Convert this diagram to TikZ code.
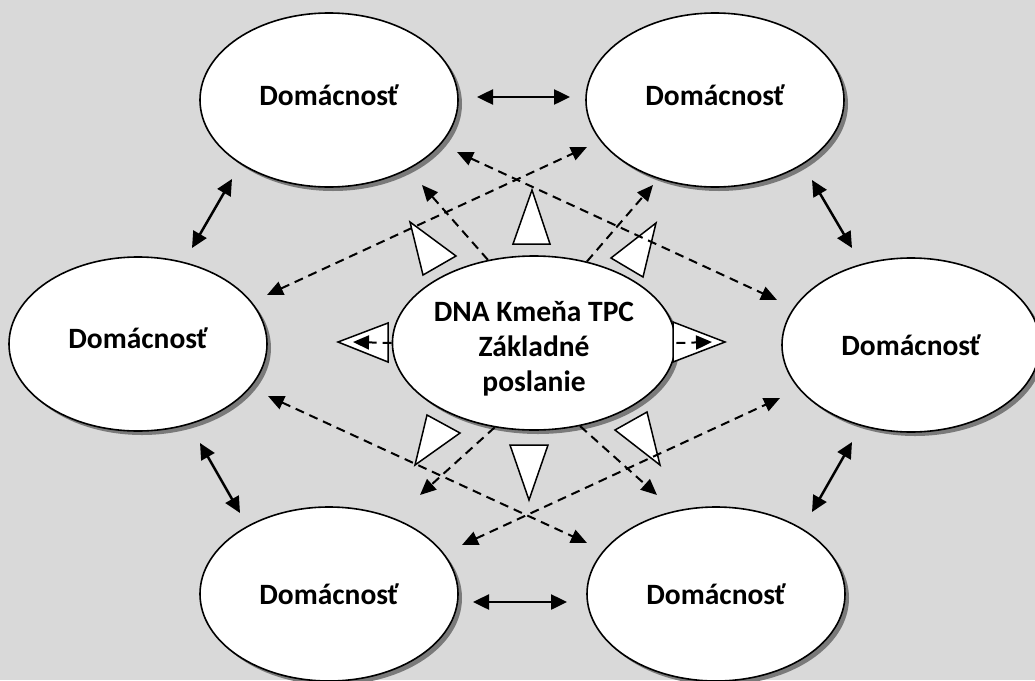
\documentclass[tikz,border=0pt]{standalone}
\usepackage{fontspec}
\setmainfont{Carlito}
\usetikzlibrary{shapes.geometric,arrows.meta,shadows}
\definecolor{bg}{HTML}{D9D9D9}
\definecolor{shadowgray}{HTML}{7A7A7A}
\begin{document}
\begin{tikzpicture}[x=1pt,y=-1pt,
  hh/.style={ellipse, draw=black, line width=1.6pt, fill=white,
    minimum width=258pt, minimum height=174pt, inner sep=0pt,
    font=\bfseries\fontsize{29.5}{35}\selectfont, align=center,
    drop shadow={shadow xshift=4pt, shadow yshift=-4pt, fill=shadowgray, opacity=1}},
  solidarr/.style={{Triangle[length=16pt,width=15pt]}-{Triangle[length=16pt,width=15pt]}, line width=2.5pt},
  dashone/.style={-{Triangle[length=16pt,width=14pt]}, line width=2pt, dash pattern=on 9pt off 6pt},
  dashtwo/.style={{Triangle[length=16pt,width=14pt]}-{Triangle[length=16pt,width=14pt]}, line width=2pt, dash pattern=on 9pt off 6pt},
  wedge/.style={draw=black, fill=white, line width=1.5pt, line join=miter}]
\useasboundingbox (0,0) rectangle (1035,680);
\clip (0,0) rectangle (1035,680);
\fill[bg] (0,0) rectangle (1035,680);

% ellipses
\node[hh] (TL) at (329,100) {Domácnosť\rule[-10pt]{0pt}{10pt}};
\node[hh] (TR) at (715,100) {Domácnosť\rule[-10pt]{0pt}{10pt}};
\node[hh] (ML) at (138,344) {Domácnosť\rule[-12pt]{0pt}{12pt}};
\node[hh] (MR) at (911,345) {Domácnosť};
\node[hh] (BL) at (329,594) {Domácnosť};
\node[hh] (BR) at (716,594) {Domácnosť};
\node[hh] (C) at (534,343) {\rule{0pt}{32pt}DNA Kmeňa TPC\\Základné\\poslanie};

% white wedges around the centre
\draw[wedge] (532,190) -- (513,244) -- (550,244) -- cycle;
\draw[wedge] (410,222) -- (423,275) -- (456,256) -- cycle;
\draw[wedge] (656,223) -- (611,258) -- (643,277) -- cycle;
\draw[wedge] (338,342) -- (388,323) -- (388,362) -- cycle;
\draw[wedge] (725,342) -- (673,322) -- (673,362) -- cycle;
\draw[wedge] (529,500) -- (510,445) -- (548,445) -- cycle;
\draw[wedge] (415,465) -- (427,415) -- (460,433) -- cycle;
\draw[wedge] (660,465) -- (615,430) -- (647,412) -- cycle;

% free ends of connectors
\coordinate (s1a) at (477,97);  \coordinate (s1b) at (570,97);
\coordinate (s2a) at (473,602); \coordinate (s2b) at (567,602);
\coordinate (s3a) at (232,179); \coordinate (s3b) at (192,248);
\coordinate (s4a) at (200,443); \coordinate (s4b) at (240,513);
\coordinate (s5a) at (812,180); \coordinate (s5b) at (852,248);
\coordinate (s6a) at (852,442); \coordinate (s6b) at (812,512);

\coordinate (d1) at (422,185);
\coordinate (d2) at (653,185);
\coordinate (d7) at (420,495);
\coordinate (d8) at (657,495);
\coordinate (d9) at (353,342);
\coordinate (d10) at (712,342);
\coordinate (d3a) at (267,295); \coordinate (d3b) at (587,147);
\coordinate (d4a) at (457,152); \coordinate (d4b) at (777,300);
\coordinate (d5a) at (268,396); \coordinate (d5b) at (587,543);
\coordinate (d6a) at (462,545); \coordinate (d6b) at (780,398);

% solid double arrows between neighbours
\draw[solidarr] (s1a) -- (s1b);
\draw[solidarr] (s2a) -- (s2b);
\draw[solidarr] (s3a) -- (s3b);
\draw[solidarr] (s4a) -- (s4b);
\draw[solidarr] (s5a) -- (s5b);
\draw[solidarr] (s6a) -- (s6b);

% dashed arrows from the centre
\draw[dashone] (C.119) -- (d1);
\draw[dashone] (C.57.5) -- (d2);
\draw[dashone] (C.245) -- (d7);
\draw[dashone] (C.299) -- (d8);
\draw[dashone] (C.180) -- (d9);
\draw[dashone] (C.0) -- (d10);

% long dashed double arrows
\draw[dashtwo] (d3a) -- (d3b);
\draw[dashtwo] (d4a) -- (d4b);
\draw[dashtwo] (d5a) -- (d5b);
\draw[dashtwo] (d6a) -- (d6b);
\end{tikzpicture}
\end{document}
